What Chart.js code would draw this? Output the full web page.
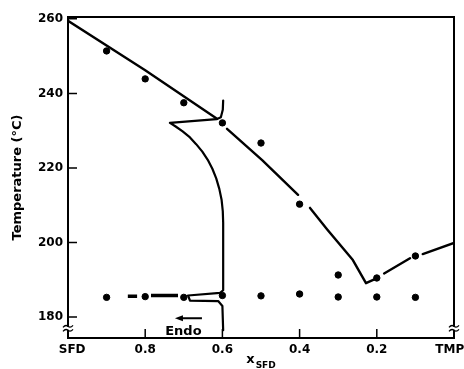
<!DOCTYPE html>
<html>
<head>
<meta charset="utf-8">
<script src="https://cdn.jsdelivr.net/npm/chart.js@4/dist/chart.umd.min.js"></script>
<style>
  html, body { margin: 0; padding: 0; background: #fff; }
  #wrap { width: 464px; height: 369px; }
</style>
</head>
<body>
<div id="wrap"><canvas id="phase" width="464" height="369"></canvas></div>
<script>
/* SFD–TMP phase diagram: melting points, drawn liquidus, DTA trace at x = 0.6 */
const xTicks     = [1, 0.8, 0.6, 0.4, 0.2, 0];
const xTickNames = ['  SFD', '0.8', '0.6', '0.4', '0.2', 'TMP  '];
const yTicks     = [180, 200, 220, 240, 260];

// measured points
const liqX = [0.9, 0.8, 0.7, 0.6, 0.5, 0.4, 0.3, 0.2, 0.1];
const liqT = [251.4, 243.9, 237.5, 232.1, 226.7, 210.3, 191.3, 190.5, 196.4];
const solX = [0.9, 0.8, 0.7, 0.6, 0.5, 0.4, 0.3, 0.2, 0.1];
const solT = [185.3, 185.5, 185.3, 185.8, 185.7, 186.2, 185.4, 185.4, 185.3];

// drawn liquidus (null = pen lifted)
const curveX = [1.0, 0.8, 0.614, 0.6, 0.588, 0.497, 0.404, 0.39, 0.373, 0.329, 0.262, 0.228, 0.205, 0.19, 0.181, 0.114, 0.1, 0.081, 0.0];
const curveT = [259.5, 246.2, 233.2, null, 230.5, 222.1, 212.8, null, 209.3, 203.6, 195.3, 189.1, 190.2, null, 191.7, 195.8, null, 196.9, 199.9];

// DTA trace of the x = 0.6 sample
const dtaX = [0.598, 0.599, 0.604, 0.615, 0.736, 0.722, 0.703, 0.684, 0.668, 0.652, 0.638, 0.626, 0.616, 0.608, 0.602, 0.599, 0.598, 0.598,
              0.598, 0.606, 0.689, 0.684, 0.611, 0.600, 0.598];
const dtaT = [238.1, 235.6, 233.6, 233.1, 232.1, 231.2, 229.8, 228.2, 226.4, 224.4, 222.2, 219.8, 217.2, 214.4, 211.4, 208.4, 205.4, 188.6,
              187.2, 186.5, 185.8, 184.4, 184.3, 183.0, 176.5];

// short trace dashes on the eutectic line
const dashX = [0.845, 0.821, 0.8, 0.785, 0.715];
const dashT = [185.6, 185.6, null, 185.8, 185.8];

// "Endo" arrow
const endoArrow = { from: 0.653, to: 0.723, t: 179.7, labelX: 0.701, labelT: 176.2 };

const pts = (xs, ts) => xs.map((x, i) => ({ x, y: ts[i] }));
const INK = '#000';

const decor = {
  id: 'decor',
  afterDraw(chart) {
    const { ctx, chartArea: a, scales: { x, y } } = chart;
    ctx.save();
    ctx.strokeStyle = INK; ctx.fillStyle = INK;
    ctx.lineWidth = 2;
    ctx.strokeRect(a.left, a.top, a.right - a.left, a.bottom - a.top);

    // inward tick marks
    ctx.lineWidth = 1.5;
    ctx.beginPath();
    yTicks.forEach(v => { const p = y.getPixelForValue(v); ctx.moveTo(a.left, p); ctx.lineTo(a.left + 9, p); });
    xTicks.slice(1, -1).forEach(v => { const p = x.getPixelForValue(v); ctx.moveTo(p, a.bottom); ctx.lineTo(p, a.bottom - 9); });
    ctx.stroke();

    // axis breaks
    const by = y.getPixelForValue(177);
    [a.left, a.right].forEach(px => {
      ctx.fillStyle = '#fff';
      ctx.fillRect(px - 3, by - 1.5, 6, 3);
      ctx.lineWidth = 1.3;
      [-2, 2].forEach(d => {
        ctx.beginPath();
        ctx.moveTo(px - 5, by + d + 1);
        ctx.quadraticCurveTo(px - 2.5, by + d - 2, px, by + d);
        ctx.quadraticCurveTo(px + 2.5, by + d + 2, px + 5, by + d - 1);
        ctx.stroke();
      });
    });
    ctx.fillStyle = INK;

    // Endo arrow
    const ax0 = x.getPixelForValue(endoArrow.from), ax1 = x.getPixelForValue(endoArrow.to);
    const ay = y.getPixelForValue(endoArrow.t);
    ctx.lineWidth = 2;
    ctx.beginPath(); ctx.moveTo(ax0, ay); ctx.lineTo(ax1 + 4, ay); ctx.stroke();
    ctx.beginPath(); ctx.moveTo(ax1, ay); ctx.lineTo(ax1 + 8, ay - 3); ctx.lineTo(ax1 + 8, ay + 3); ctx.closePath(); ctx.fill();
    ctx.font = 'bold 13px "DejaVu Sans"';
    ctx.textAlign = 'center'; ctx.textBaseline = 'middle';
    ctx.fillText('Endo', x.getPixelForValue(endoArrow.labelX), y.getPixelForValue(endoArrow.labelT));

    // x axis title with subscript
    const cx = (a.left + a.right) / 2;
    ctx.textAlign = 'left'; ctx.textBaseline = 'alphabetic';
    ctx.font = 'bold 13px "DejaVu Sans"';
    const wx = ctx.measureText('x').width;
    ctx.font = 'bold 9px "DejaVu Sans"';
    const ws = ctx.measureText('SFD').width;
    const x0 = cx - (wx + ws + 1) / 2;
    ctx.font = 'bold 13px "DejaVu Sans"';
    ctx.fillText('x', x0, 363);
    ctx.font = 'bold 9px "DejaVu Sans"';
    ctx.fillText('SFD', x0 + wx + 1, 368);
    ctx.restore();
  }
};

new Chart(document.getElementById('phase'), {
  type: 'scatter',
  data: {
    datasets: [
      { data: pts(curveX, curveT), showLine: true, spanGaps: false, borderColor: INK, borderWidth: 2.4,
        pointRadius: 0, tension: 0, borderCapStyle: 'round', borderJoinStyle: 'round' },
      { data: pts(dtaX, dtaT), showLine: true, borderColor: INK, borderWidth: 2.2,
        pointRadius: 0, tension: 0, borderCapStyle: 'round', borderJoinStyle: 'round' },
      { data: pts(dashX, dashT), showLine: true, spanGaps: false, borderColor: INK, borderWidth: 3.5,
        pointRadius: 0, tension: 0 },
      { data: pts(liqX, liqT), backgroundColor: INK, borderColor: INK, pointRadius: 3.2 },
      { data: pts(solX, solT), backgroundColor: INK, borderColor: INK, pointRadius: 3.2 },
    ]
  },
  plugins: [decor],
  options: {
    responsive: false, animation: false,
    layout: { padding: { top: 17, right: 10, left: 0, bottom: 0 } },
    plugins: { legend: { display: false }, tooltip: { enabled: false } },
    scales: {
      x: {
        type: 'linear', reverse: true, min: 0, max: 1,
        afterBuildTicks: s => { s.ticks = xTicks.map(v => ({ value: v })); },
        afterFit: s => { s.height = 31; s.paddingLeft = 0; s.paddingRight = 0; },
        grid: { display: false, drawTicks: false },
        border: { display: false },
        ticks: { color: INK, padding: 5, maxRotation: 0, autoSkip: false,
                 font: { family: '"DejaVu Sans"', size: 12, weight: 'bold' },
                 callback: v => xTickNames[xTicks.indexOf(Math.round(v * 10) / 10)] }
      },
      y: {
        type: 'linear', min: 174.4, max: 260.5,
        afterBuildTicks: s => { s.ticks = yTicks.map(v => ({ value: v })); },
        afterFit: s => { s.width = 68; s.paddingTop = 0; s.paddingBottom = 0; },
        grid: { display: false, drawTicks: false },
        border: { display: false },
        ticks: { color: INK, padding: 5,
                 font: { family: '"DejaVu Sans"', size: 12, weight: 'bold' } },
        title: { display: true, text: 'Temperature (°C)', color: INK, padding: { top: 10, bottom: 0 },
                 font: { family: '"DejaVu Sans"', size: 13, weight: 'bold' } }
      }
    }
  }
});
</script>
</body>
</html>
